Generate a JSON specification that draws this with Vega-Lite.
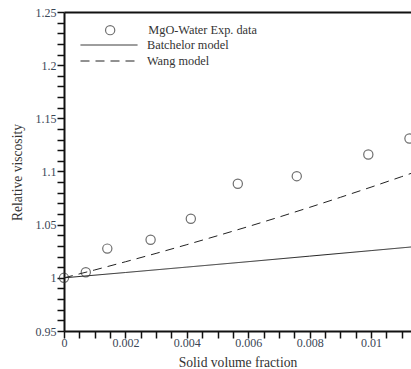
{
  "$schema": "https://vega.github.io/schema/vega-lite/v6.json",
  "autosize": {"type": "none"},
  "width": 347,
  "height": 319,
  "padding": {"left": 64, "top": 12, "right": 0, "bottom": 38},
  "background": "white",
  "config": {
    "view": {"stroke": null},
    "font": "Liberation Serif",
    "axis": {"labelFont": "Liberation Serif", "titleFont": "Liberation Serif", "grid": false}
  },
  "datasets": {
    "exp": [
      {"phi": 0, "mu": 1.0, "series": "MgO-Water Exp. data"},
      {"phi": 0.00071, "mu": 1.0052, "series": "MgO-Water Exp. data"},
      {"phi": 0.00141, "mu": 1.0275, "series": "MgO-Water Exp. data"},
      {"phi": 0.00282, "mu": 1.0358, "series": "MgO-Water Exp. data"},
      {"phi": 0.00413, "mu": 1.0556, "series": "MgO-Water Exp. data"},
      {"phi": 0.00566, "mu": 1.0885, "series": "MgO-Water Exp. data"},
      {"phi": 0.00758, "mu": 1.0956, "series": "MgO-Water Exp. data"},
      {"phi": 0.00991, "mu": 1.116, "series": "MgO-Water Exp. data"},
      {"phi": 0.01125, "mu": 1.131, "series": "MgO-Water Exp. data"}
    ],
    "models": [
      {"phi": 0, "mu": 1.0, "series": "Batchelor model"},
      {"phi": 0.002, "mu": 1.0050, "series": "Batchelor model"},
      {"phi": 0.004, "mu": 1.0101, "series": "Batchelor model"},
      {"phi": 0.006, "mu": 1.0152, "series": "Batchelor model"},
      {"phi": 0.008, "mu": 1.0204, "series": "Batchelor model"},
      {"phi": 0.010, "mu": 1.0256, "series": "Batchelor model"},
      {"phi": 0.0113, "mu": 1.0290, "series": "Batchelor model"},
      {"phi": 0, "mu": 1.0, "series": "Wang model"},
      {"phi": 0.001, "mu": 1.0074, "series": "Wang model"},
      {"phi": 0.002, "mu": 1.0151, "series": "Wang model"},
      {"phi": 0.003, "mu": 1.0230, "series": "Wang model"},
      {"phi": 0.004, "mu": 1.0312, "series": "Wang model"},
      {"phi": 0.005, "mu": 1.0396, "series": "Wang model"},
      {"phi": 0.006, "mu": 1.0482, "series": "Wang model"},
      {"phi": 0.007, "mu": 1.0571, "series": "Wang model"},
      {"phi": 0.008, "mu": 1.0663, "series": "Wang model"},
      {"phi": 0.009, "mu": 1.0757, "series": "Wang model"},
      {"phi": 0.010, "mu": 1.0853, "series": "Wang model"},
      {"phi": 0.011, "mu": 1.0952, "series": "Wang model"},
      {"phi": 0.0113, "mu": 1.0982, "series": "Wang model"}
    ]
  },
  "resolve": {"axis": {"x": "independent", "y": "independent"}},
  "layer": [
    {
      "data": {"name": "models"},
      "mark": {"type": "line", "color": "#222", "strokeWidth": 1, "clip": true},
      "encoding": {
        "x": {
          "field": "phi", "type": "quantitative",
          "scale": {"domain": [0, 0.0113], "nice": false, "zero": false},
          "axis": {
            "orient": "bottom",
            "title": "Solid volume fraction",
            "titleFontSize": 13.6, "titleFontWeight": "normal", "titleColor": "#333",
            "titlePadding": 7,
            "values": [0, 0.0005, 0.001, 0.0015, 0.002, 0.0025, 0.003, 0.0035, 0.004, 0.0045, 0.005, 0.0055, 0.006, 0.0065, 0.007, 0.0075, 0.008, 0.0085, 0.009, 0.0095, 0.01, 0.0105, 0.011],
            "labelExpr": "abs(datum.value/0.002 - round(datum.value/0.002)) < 1e-6 ? format(datum.value, '~g') : ''",
            "labelFontSize": 12, "labelColor": "#3b4656",
            "labelPadding": -1,
            "labelFlush": false, "labelOverlap": false,
            "domainColor": "#111", "domainWidth": 2,
            "tickColor": "#111", "tickWidth": 1.5, "tickSize": 7,
            "encode": {"ticks": {"update": {"y2": {"signal": "abs(datum.value/0.002 - round(datum.value/0.002)) < 1e-6 ? -7 : -3.5"}}}}
          }
        },
        "y": {
          "field": "mu", "type": "quantitative",
          "scale": {"domain": [0.95, 1.25], "nice": false, "zero": false},
          "axis": {
            "orient": "left",
            "title": "Relative viscosity",
            "titleFontSize": 13.6, "titleFontWeight": "normal", "titleColor": "#333",
            "titleX": -47, "titleY": 160, "titleAngle": -90, "titleBaseline": "middle", "titleAlign": "center",
            "values": [0.95, 0.96, 0.97, 0.98, 0.99, 1.0, 1.01, 1.02, 1.03, 1.04, 1.05, 1.06, 1.07, 1.08, 1.09, 1.1, 1.11, 1.12, 1.13, 1.14, 1.15, 1.16, 1.17, 1.18, 1.19, 1.2, 1.21, 1.22, 1.23, 1.24, 1.25],
            "labelExpr": "abs(datum.value/0.05 - round(datum.value/0.05)) < 1e-6 ? format(datum.value, '.3~g') : ''",
            "labelFontSize": 12, "labelColor": "#3b4656",
            "labelPadding": 1,
            "labelFlush": false, "labelOverlap": false,
            "domainColor": "#111", "domainWidth": 2,
            "tickColor": "#111", "tickWidth": 1.5, "tickSize": 7,
            "encode": {"ticks": {"update": {"x2": {"signal": "abs(datum.value/0.05 - round(datum.value/0.05)) < 1e-6 ? 7 : 3.5"}}}}
          }
        },
        "detail": {"field": "series"},
        "strokeDash": {
          "field": "series", "type": "nominal",
          "scale": {"domain": ["Batchelor model", "Wang model"], "range": [[1, 0], [9, 6]]},
          "legend": {
            "title": null, "orient": "none", "legendX": 16, "legendY": 26,
            "padding": 0,
            "symbolType": "stroke", "symbolSize": 3249, "symbolStrokeWidth": 1, "symbolStrokeColor": "#222",
            "clipHeight": 14, "rowPadding": 2,
            "labelFont": "Liberation Serif", "labelFontSize": 12.3, "labelColor": "#333", "labelOffset": 9
          }
        }
      }
    },
    {
      "data": {"name": "exp"},
      "mark": {"type": "point", "filled": false, "color": "#333", "strokeWidth": 1.2, "size": 85, "clip": false},
      "encoding": {
        "x": {"field": "phi", "type": "quantitative", "axis": {"orient": "top", "title": null, "labels": false, "ticks": false, "domainColor": "#111", "domainWidth": 2}},
        "y": {"field": "mu", "type": "quantitative", "axis": null},
        "shape": {
          "field": "series", "type": "nominal",
          "scale": {"domain": ["MgO-Water Exp. data"], "range": ["circle"]},
          "legend": {
            "title": null, "orient": "none", "legendX": 40, "legendY": 12,
            "padding": 0,
            "symbolSize": 85, "symbolStrokeWidth": 1.2, "symbolStrokeColor": "#333", "symbolFillColor": "transparent",
            "labelFont": "Liberation Serif", "labelFontSize": 12.3, "labelColor": "#333", "labelOffset": 32
          }
        }
      }
    }
  ]
}
